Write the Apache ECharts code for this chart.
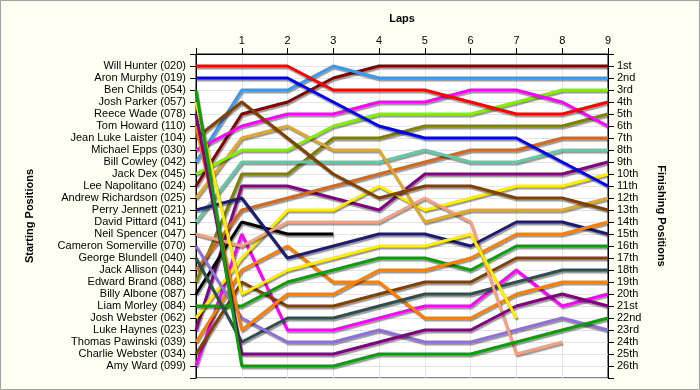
<!DOCTYPE html>
<html><head><meta charset="utf-8">
<script src="https://cdn.jsdelivr.net/npm/echarts/dist/echarts.min.js"></script>
<style>html,body{margin:0;padding:0;background:#fffef2}#c{width:700px;height:390px}</style>
</head><body><div id="c"></div><script>
const drivers = ['Will Hunter (020)','Aron Murphy (019)','Ben Childs (054)','Josh Parker (057)','Reece Wade (078)','Tom Howard (110)','Jean Luke Laister (104)','Michael Epps (030)','Bill Cowley (042)','Jack Dex (045)','Lee Napolitano (024)','Andrew Richardson (025)','Perry Jennett (021)','David Pittard (041)','Neil Spencer (047)','Cameron Somerville (070)','George Blundell (040)','Jack Allison (044)','Edward Brand (088)','Billy Albone (087)','Liam Morley (084)','Josh Webster (062)','Luke Haynes (023)','Thomas Pawinski (039)','Charlie Webster (034)','Amy Ward (099)'];
const finishLabels = ['1st','2nd','3rd','4th','5th','6th','7th','8th','9th','10th','11th','12th','13th','14th','15th','16th','17th','18th','19th','20th','21st','22nd','23rd','24th','25th','26th'];
const laps = [0,1,2,3,4,5,6,7,8,9];
// position of each driver (in start order) after each lap; null = retired
const lap0 = [1,2,3,4,5,6,7,8,9,10,11,12,13,14,15,16,17,18,19,20,21,22,23,24,25,26];
const lap1 = [1,2,26,20,25,23,4,6,3,8,5,7,12,9,16,22,24,13,10,14,21,17,11,18,19,15];
const lap2 = [1,2,26,18,25,20,7,5,3,8,4,6,17,9,14,24,22,12,10,15,19,13,11,16,21,23];
const lap3 = [3,4,26,17,25,20,10,5,1,6,2,8,16,9,14,24,22,11,7,15,18,13,12,19,21,23];
const lap4 = [3,6,25,16,24,18,12,4,2,5,1,8,15,9,14,23,21,10,7,null,17,11,13,19,20,22];
const lap5 = [3,7,25,16,23,18,11,4,2,5,1,14,15,8,12,24,20,9,6,null,17,13,10,22,19,21];
const lap6 = [4,7,25,15,23,17,11,3,2,5,1,13,16,9,14,24,20,8,6,null,18,12,10,22,19,21];
const lap7 = [5,7,24,22,21,15,12,3,2,4,1,13,14,9,25,23,19,8,6,null,16,11,10,20,17,18];
const lap8 = [5,9,23,null,20,15,12,4,2,3,1,13,14,8,24,22,18,7,6,null,16,11,10,19,17,21];
const lap9 = [4,11,22,null,21,14,13,6,2,3,1,12,15,8,null,23,18,7,5,null,16,10,9,19,17,20];
const colors = ['#ff0000','#0000ee','#0a9e0a','#ffee00','#800080','#ff8000','#804000','#ff00ff','#3a98f0','#80f000','#800000','#e0a830','#1c1c70','#66c8a8','#f5a080','#9070d8','#2f4f4f','#d2691e','#808000','#000000','#0a9e0a','#ffee00','#800080','#ff8000','#804000','#ff00ff'];

const lapTable = [lap0,lap1,lap2,lap3,lap4,lap5,lap6,lap7,lap8,lap9];
const series = drivers.map((d,i) => ({
  name: d, type: 'line', yAxisIndex: 0, symbol: 'none', silent: true,
  lineStyle: {color: colors[i], width: 3, shadowColor: 'rgba(0,0,0,0.4)', shadowOffsetX: 1, shadowOffsetY: 2, shadowBlur: 1},
  itemStyle: {color: colors[i]},
  data: laps.map((l,k) => [l, lapTable[k][i]]).filter(p => p[1] != null),
  z: 30 - i
}));
const font = '"Liberation Sans", Arial, sans-serif';
const chart = echarts.init(document.getElementById('c'), null, {renderer: 'canvas'});
chart.setOption({
  backgroundColor: '#fffef2',
  animation: false,
  grid: {left: 196, right: 92, top: 54, bottom: 12, show: true, backgroundColor: '#ffffff', borderColor: '#000', borderWidth: 1},
  xAxis: {type: 'value', position: 'top', min: 0, max: 9, interval: 1,
    name: 'Laps', nameLocation: 'middle', nameGap: 30,
    nameTextStyle: {fontFamily: font, fontWeight: 'bold', fontSize: 11, color: '#000'},
    axisLine: {lineStyle: {color: '#000', width: 1}},
    axisTick: {show: true, length: 6, lineStyle: {color: '#000'}},
    axisLabel: {fontFamily: font, fontSize: 11, color: '#000', margin: 8, formatter: v => v === 0 ? '' : String(v)},
    splitLine: {show: true, lineStyle: {color: '#e4e4e4'}}},
  yAxis: [
    {type: 'value', position: 'left', min: 0, max: 27, interval: 1, inverse: true,
     name: 'Starting Positions', nameLocation: 'middle', nameGap: 161, nameRotate: 90,
     nameTextStyle: {fontFamily: font, fontWeight: 'bold', fontSize: 11, color: '#000'},
     axisLine: {show: true, lineStyle: {color: '#000'}},
     axisTick: {show: true, length: 6, lineStyle: {color: '#000'}},
     axisLabel: {fontFamily: font, fontSize: 11, color: '#000', margin: 10, showMinLabel: true, showMaxLabel: true,
       formatter: v => (v >= 1 && v <= 26) ? drivers[v-1] : ''},
     splitLine: {show: true, lineStyle: {color: '#e4e4e4'}}},
    {type: 'value', position: 'right', min: 0, max: 27, interval: 1, inverse: true,
     name: 'Finishing Positions', nameLocation: 'middle', nameGap: 48, nameRotate: -90,
     nameTextStyle: {fontFamily: font, fontWeight: 'bold', fontSize: 11, color: '#000'},
     axisLine: {show: true, lineStyle: {color: '#000'}},
     axisTick: {show: true, length: 6, lineStyle: {color: '#000'}},
     axisLabel: {fontFamily: font, fontSize: 11, color: '#000', margin: 9, showMinLabel: true, showMaxLabel: true,
       formatter: v => (v >= 1 && v <= 26) ? finishLabels[v-1] : ''},
     splitLine: {show: false}}
  ],
  graphic: [{type: 'rect', shape: {x: 0.5, y: 0.5, width: 699, height: 389}, style: {fill: 'none', stroke: '#a0a0a0', lineWidth: 1}, silent: true}],
  series: series
});
</script></body></html>
